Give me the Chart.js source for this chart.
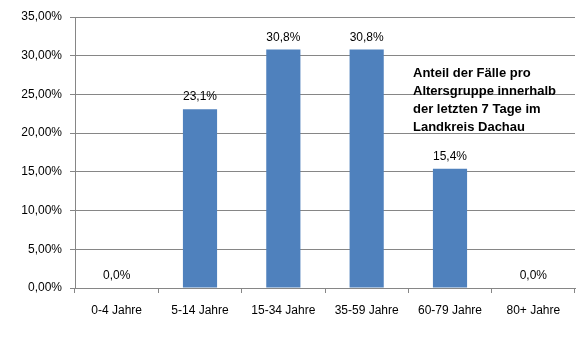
<!DOCTYPE html>
<html>
<head>
<meta charset="utf-8">
<script src="https://cdn.jsdelivr.net/npm/chart.js@4/dist/chart.umd.min.js"></script>
<style>
  html, body { margin: 0; padding: 0; background: #fff; }
  #wrap { width: 581px; height: 340px; }
</style>
</head>
<body>
<div id="wrap"><canvas id="chart" width="581" height="340"></canvas></div>
<script>
// data (percent of cases)
const categories = ['0-4 Jahre', '5-14 Jahre', '15-34 Jahre', '35-59 Jahre', '60-79 Jahre', '80+ Jahre'];
const shares = [0.0, 23.1, 30.8, 30.8, 15.4, 0.0];
const noteLines = ['Anteil der Fälle pro', 'Altersgruppe innerhalb', 'der letzten 7 Tage im', 'Landkreis Dachau'];

const FONT = '"Liberation Sans", Arial, sans-serif';
const gray = '#868686';

// value labels above the bars
const barLabels = {
    id: 'barLabels',
    afterDatasetsDraw(chart) {
        const ctx = chart.ctx;
        const meta = chart.getDatasetMeta(0);
        ctx.save();
        ctx.font = '12px ' + FONT;
        ctx.fillStyle = '#000';
        ctx.textAlign = 'center';
        ctx.textBaseline = 'bottom';
        meta.data.forEach(function(bar, i) {
            ctx.fillText(shares[i].toFixed(1).replace('.', ',') + '%', bar.x, bar.y - 6);
        });
        ctx.restore();
    }
};

// note text in the upper right
const note = {
    id: 'note',
    afterDraw(chart) {
        const ctx = chart.ctx;
        ctx.save();
        ctx.font = 'bold 13px ' + FONT;
        ctx.fillStyle = '#000';
        ctx.textAlign = 'left';
        ctx.textBaseline = 'middle';
        noteLines.forEach(function(line, i) {
            ctx.fillText(line, 413, 73 + i * 18);
        });
        ctx.restore();
    }
};

const chart = new Chart(document.getElementById('chart'), {
    type: 'bar',
    data: {
        labels: categories,
        datasets: [{
            data: shares,
            backgroundColor: '#4F81BD',
            categoryPercentage: 1,
            barPercentage: 0.41
        }]
    },
    options: {
        responsive: false,
        animation: false,
        layout: { padding: { top: 17, right: 6, left: 0, bottom: 0 } },
        plugins: { legend: { display: false }, tooltip: { enabled: false } },
        scales: {
            x: {
                grid: { drawOnChartArea: false, drawTicks: true, tickLength: 5, color: gray, offset: true },
                border: { color: gray },
                ticks: { color: '#000', font: { family: FONT, size: 12 }, padding: 10, maxRotation: 0 },
                afterFit(scale) { scale.height = 52; }
            },
            y: {
                min: 0,
                max: 35,
                grid: { color: gray, tickLength: 5 },
                border: { color: gray },
                ticks: {
                    stepSize: 5,
                    color: '#000',
                    font: { family: FONT, size: 12 },
                    padding: 8,
                    callback: function(v) { return v.toFixed(2).replace('.', ',') + '%'; }
                },
                afterFit(scale) { scale.width = 75; }
            }
        }
    },
    plugins: [barLabels, note]
});
</script>
</body>
</html>
